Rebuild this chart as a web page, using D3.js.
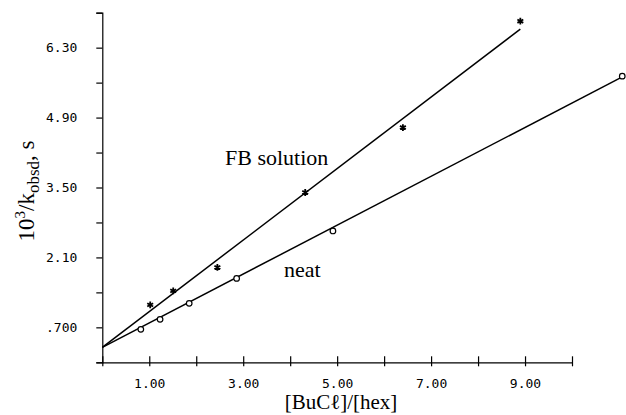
<!DOCTYPE html>
<html>
<head>
<meta charset="utf-8">
<script src="https://cdn.jsdelivr.net/npm/d3@7"></script>
<style>
    body { margin: 0; background: #fff; }
    .tick text { font-family: "DejaVu Sans Mono", monospace; font-size: 13px; fill: #000; }
    .axis path, .axis line { stroke: #000; stroke-width: 1.2; }
    .title { font-family: "Liberation Serif", "Times New Roman", serif; fill: #000; }
</style>
</head>
<body>
<div id="chart"></div>
<script>
// FB solution (stars)
const fbX = [1.02, 1.51, 2.45, 4.32, 6.40, 8.90];
const fbY = [1.15, 1.43, 1.90, 3.40, 4.70, 6.83];
// neat (open circles)
const neatX = [0.82, 1.23, 1.85, 2.86, 4.91, 11.07];
const neatY = [0.66, 0.86, 1.18, 1.68, 2.63, 5.73];
// least-squares lines, end points
const fbFit = [[0, 0.30], [8.90, 6.67]];
const neatFit = [[0, 0.30], [11.04, 5.70]];

const xTicks = [0, 1, 2, 3, 4, 5, 6, 7, 8, 9, 10];
const xTickLabels = ['', '1.00', '', '3.00', '', '5.00', '', '7.00', '', '9.00', ''];
const yTicks = [0, 0.7, 1.4, 2.1, 2.8, 3.5, 4.2, 4.9, 5.6, 6.3, 7.0];
const yTickLabels = ['', '.700', '', '2.10', '', '3.50', '', '4.90', '', '6.30', ''];

const w = 626;
const h = 415;

const xScale = d3.scaleLinear().domain([0, 10]).range([102.3, 572]);
const yScale = d3.scaleLinear().domain([0, 7]).range([362.3, 12.7]);

const svg = d3.select('#chart')
    .append('svg')
    .attr('width', w)
    .attr('height', h);

// x axis, ticks cross the line
const gx = svg.append('g')
    .attr('class', 'axis')
    .attr('transform', `translate(0, ${yScale(0)})`)
    .call(d3.axisBottom(xScale)
        .tickValues(xTicks)
        .tickSizeOuter(0)
        .tickPadding(10)
        .tickFormat((d, i) => xTickLabels[i]));
gx.selectAll('.tick line').attr('y1', -6).attr('y2', 4);

// y axis
svg.append('g')
    .attr('class', 'axis')
    .attr('transform', `translate(${xScale(0)}, 0)`)
    .call(d3.axisLeft(yScale)
        .tickValues(yTicks)
        .tickSizeOuter(0)
        .tickSize(6)
        .tickPadding(19)
        .tickFormat((d, i) => yTickLabels[i]));

const line = d3.line()
    .x(d => xScale(d[0]))
    .y(d => yScale(d[1]));

[fbFit, neatFit].forEach(f => {
    svg.append('path')
        .attr('d', line(f))
        .attr('fill', 'none')
        .attr('stroke', '#000')
        .attr('stroke-width', 1.5);
});

svg.selectAll('.star')
    .data(fbX)
    .enter()
    .append('path')
    .attr('class', 'star')
    .attr('transform', (d, i) => `translate(${xScale(d)}, ${yScale(fbY[i])})`)
    .attr('d', d3.symbol(d3.symbolAsterisk, 32))
    .attr('fill', 'none')
    .attr('stroke', '#000')
    .attr('stroke-width', 1.8);

svg.selectAll('.ring')
    .data(neatX)
    .enter()
    .append('circle')
    .attr('class', 'ring')
    .attr('cx', d => xScale(d))
    .attr('cy', (d, i) => yScale(neatY[i]))
    .attr('r', 2.8)
    .attr('fill', '#fff')
    .attr('stroke', '#000')
    .attr('stroke-width', 1.2);

svg.append('text')
    .attr('class', 'title')
    .attr('x', 225)
    .attr('y', 165)
    .attr('font-size', 22)
    .text('FB solution');

svg.append('text')
    .attr('class', 'title')
    .attr('x', 284)
    .attr('y', 276.5)
    .attr('font-size', 22)
    .text('neat');

svg.append('text')
    .attr('class', 'title')
    .attr('x', 341)
    .attr('y', 409)
    .attr('text-anchor', 'middle')
    .attr('font-size', 21)
    .text('[BuC\u2113]/[hex]');

const yt = svg.append('text')
    .attr('class', 'title')
    .attr('transform', 'translate(34, 191) rotate(-90)')
    .attr('text-anchor', 'middle')
    .attr('font-size', 23);
yt.append('tspan').text('10');
yt.append('tspan').attr('dy', -9).attr('font-size', 15).text('3');
yt.append('tspan').attr('dy', 9).text('/k');
yt.append('tspan').attr('dy', 5).attr('font-size', 17).text('obsd');
yt.append('tspan').attr('dy', -5).text(', s');
</script>
</body>
</html>
